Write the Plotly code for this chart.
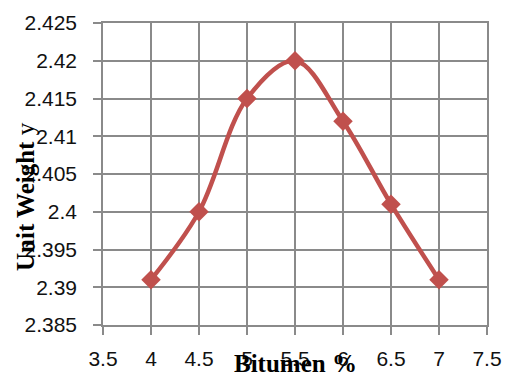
import plotly.graph_objects as go

# Bitumen content (%) against unit weight
bitumen = [4, 4.5, 5, 5.5, 6, 6.5, 7]
unit_weight = [2.391, 2.400, 2.415, 2.420, 2.412, 2.401, 2.391]

x_ticks = [3.5, 4, 4.5, 5, 5.5, 6, 6.5, 7, 7.5]
x_tick_text = ["3.5", "4", "4.5", "5", "5.5", "6", "6.5", "7", "7.5"]
y_ticks = [2.385, 2.39, 2.395, 2.4, 2.405, 2.41, 2.415, 2.42, 2.425]
y_tick_text = ["2.385", "2.39", "2.395", "2.4", "2.405", "2.41", "2.415", "2.42", "2.425"]

RED = "#C0504D"
GRID = "#8a8a8a"
W, H = 509, 376
L, R, T, B = 103, 22, 23, 51

fig = go.Figure(
    go.Scatter(
        x=bitumen,
        y=unit_weight,
        mode="lines+markers",
        line=dict(color=RED, width=4.5, shape="spline", smoothing=1),
        marker=dict(symbol="diamond", size=15, color=RED),
        showlegend=False,
    )
)

axis_common = dict(
    showgrid=True,
    gridcolor=GRID,
    gridwidth=1.5,
    showline=True,
    linecolor=GRID,
    linewidth=1.5,
    mirror=True,
    ticks="outside",
    ticklen=8,
    tickwidth=1.5,
    tickcolor=GRID,
    zeroline=False,
    automargin=False,
    tickfont=dict(family="Liberation Sans, Arial, sans-serif", size=21, color="#111111"),
)

fig.update_xaxes(
    range=[3.5, 7.5],
    tickvals=x_ticks,
    ticktext=x_tick_text,
    ticklabelstandoff=6,
    **axis_common,
)
fig.update_yaxes(
    range=[2.385, 2.425],
    tickvals=y_ticks,
    ticktext=y_tick_text,
    ticklabelstandoff=12,
    **axis_common,
)

title_font = dict(family="Liberation Serif, Times New Roman, serif", size=25, color="#000000")
pw, ph = W - L - R, H - T - B

fig.add_annotation(
    text="<b>Unit Weight</b> y",
    textangle=-90,
    xref="paper", yref="paper",
    x=(25 - L) / pw, y=(H - B - 197) / ph,
    xanchor="center", yanchor="middle",
    showarrow=False,
    font=title_font,
)
fig.add_annotation(
    text="<b>Bitumen %</b>",
    xref="paper", yref="paper",
    x=(295 - L) / pw, y=(H - B - 364) / ph,
    xanchor="center", yanchor="middle",
    showarrow=False,
    font=title_font,
)

fig.update_layout(
    width=W,
    height=H,
    margin=dict(l=L, r=R, t=T, b=B),
    paper_bgcolor="white",
    plot_bgcolor="white",
)

fig.write_html("out.html")
